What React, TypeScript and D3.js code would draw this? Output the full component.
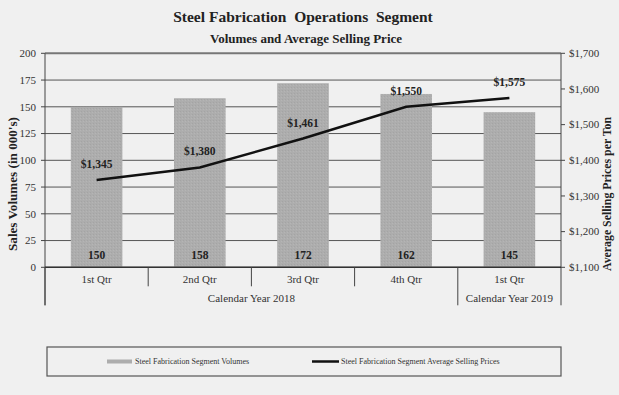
import React from 'react';
import * as d3 from 'd3';

const quarters = ['1st Qtr', '2nd Qtr', '3rd Qtr', '4th Qtr', '1st Qtr '];
const quarterLabels = ['1st Qtr', '2nd Qtr', '3rd Qtr', '4th Qtr', '1st Qtr'];
const volumes = [150, 158, 172, 162, 145];
const prices = [1345, 1380, 1461, 1550, 1575];
const volumeTicks = [0, 25, 50, 75, 100, 125, 150, 175, 200];
const priceTicks = [1100, 1200, 1300, 1400, 1500, 1600, 1700];
const yearGroups = [
  { label: 'Calendar Year 2018', from: 0, to: 3 },
  { label: 'Calendar Year 2019', from: 4, to: 4 },
];

const W = 619;
const H = 395;
const FONT = '"Liberation Serif", "Times New Roman", serif';

const App = () => {
  const margin = { left: 45, right: 58, top: 53.3, bottom: 127.7 };
  const x0 = margin.left;
  const x1 = W - margin.right;
  const yTop = margin.top;
  const yBot = H - margin.bottom;

  const x = d3.scaleBand().domain(quarters).range([x0, x1]).paddingInner(0).paddingOuter(0);
  const barW = x.bandwidth() * 0.5;
  const yVol = d3.scaleLinear().domain([0, 200]).range([yBot, yTop]);
  const yPrice = d3.scaleLinear().domain([1100, 1700]).range([yBot, yTop]);

  const line = d3
    .line<number>()
    .x((_, i) => x(quarters[i])! + x.bandwidth() / 2)
    .y(d => yPrice(d));

  const fmt = (v: number) => '$' + d3.format(',')(v);

  return (
    <svg width={W} height={H} style={{ position: 'absolute', left: 0, top: 0, background: '#f0f0f0' }}>
      <defs>
        <pattern id="grain" width="3" height="3" patternUnits="userSpaceOnUse">
          <rect width="3" height="3" fill="#adadad" />
          <rect width="1" height="1" fill="#a4a4a4" />
          <rect x="2" y="1" width="1" height="1" fill="#b5b5b5" />
        </pattern>
      </defs>
      <rect width={W} height={H} fill="#f0f0f0" />

      <text x={303} y={22} textAnchor="middle" fontFamily={FONT} fontWeight="bold" fontSize={15.5} fill="#222" style={{ whiteSpace: 'pre' }}>
        {'Steel Fabrication  Operations  Segment'}
      </text>
      <text x={306} y={43} textAnchor="middle" fontFamily={FONT} fontWeight="bold" fontSize={13} fill="#222">
        Volumes and Average Selling Price
      </text>

      {/* grid */}
      {volumeTicks.map(t => (
        <line key={t} x1={x0} x2={x1} y1={yVol(t)} y2={yVol(t)} stroke={t === 200 ? '#777' : '#555'} strokeWidth={t === 200 ? 2 : 1} />
      ))}

      {/* bars */}
      {volumes.map((v, i) => (
        <rect
          key={i}
          x={x(quarters[i])! + (x.bandwidth() - barW) / 2}
          y={yVol(v)}
          width={barW}
          height={yVol(0) - yVol(v)}
          fill="url(#grain)"
        />
      ))}

      {/* left axis */}
      <line x1={x0} x2={x0} y1={yTop} y2={yBot + 38} stroke="#444" strokeWidth={1} />
      {volumeTicks.map(t => (
        <g key={t}>
          <line x1={x0 - 4} x2={x0} y1={yVol(t)} y2={yVol(t)} stroke="#444" />
          <text x={x0 - 9} y={yVol(t)} dy="0.35em" textAnchor="end" fontFamily={FONT} fontSize={11} fill="#333">
            {t}
          </text>
        </g>
      ))}
      <text
        transform={`translate(17,184) rotate(-90)`}
        textAnchor="middle"
        fontFamily={FONT}
        fontWeight="bold"
        fontSize={12.5}
        textLength={134}
        lengthAdjust="spacingAndGlyphs"
        fill="#222"
      >
        Sales Volumes (in 000's)
      </text>

      {/* right axis */}
      <line x1={x1} x2={x1} y1={yTop} y2={yBot + 38} stroke="#444" strokeWidth={1} />
      {priceTicks.map(t => (
        <g key={t}>
          <line x1={x1} x2={x1 + 4} y1={yPrice(t)} y2={yPrice(t)} stroke="#444" />
          <text x={x1 + 8} y={yPrice(t)} dy="0.35em" textAnchor="start" fontFamily={FONT} fontSize={11} fill="#333">
            {fmt(t)}
          </text>
        </g>
      ))}
      <text
        transform={`translate(611,194) rotate(-90)`}
        textAnchor="middle"
        fontFamily={FONT}
        fontWeight="bold"
        fontSize={12.5}
        textLength={154}
        lengthAdjust="spacingAndGlyphs"
        fill="#222"
      >
        Average Selling Prices per Ton
      </text>

      {/* category axis */}
      <line x1={x0} x2={x1} y1={yBot} y2={yBot} stroke="#333" strokeWidth={1.5} />
      {quarters.map((q, i) => {
        const bx = x(q)!;
        const long = i === 0 || i === 4;
        return <line key={q} x1={bx} x2={bx} y1={yBot} y2={yBot + (long ? 38 : 19)} stroke="#444" />;
      })}
      {quarters.map((q, i) => (
        <text
          key={q}
          x={x(q)! + x.bandwidth() / 2}
          y={yBot + 16}
          textAnchor="middle"
          fontFamily={FONT}
          fontSize={11}
          fill="#333"
        >
          {quarterLabels[i]}
        </text>
      ))}
      {yearGroups.map(g => (
        <text
          key={g.label}
          x={(x(quarters[g.from])! + x(quarters[g.to])! + x.bandwidth()) / 2}
          y={yBot + 35}
          textAnchor="middle"
          fontFamily={FONT}
          fontSize={11}
          fill="#333"
        >
          {g.label}
        </text>
      ))}

      {/* price line */}
      <path d={line(prices)!} fill="none" stroke="#111" strokeWidth={2.5} />

      {/* labels */}
      {prices.map((p, i) => (
        <text
          key={'p' + i}
          x={x(quarters[i])! + x.bandwidth() / 2}
          y={yPrice(p) - 12}
          textAnchor="middle"
          fontFamily={FONT}
          fontWeight="bold"
          fontSize={11.5}
          fill="#222"
        >
          {fmt(p)}
        </text>
      ))}
      {volumes.map((v, i) => (
        <text
          key={'v' + i}
          x={x(quarters[i])! + x.bandwidth() / 2}
          y={yBot - 8}
          textAnchor="middle"
          fontFamily={FONT}
          fontWeight="bold"
          fontSize={11.5}
          fill="#222"
        >
          {v}
        </text>
      ))}

      {/* legend */}
      <rect x={47} y={347} width={514} height={29} fill="none" stroke="#555" strokeWidth={1.2} />
      <line x1={107} x2={132} y1={361.5} y2={361.5} stroke="#adadad" strokeWidth={4} />
      <text x={135} y={361.5} dy="0.35em" fontFamily={FONT} fontSize={8} fill="#333">
        Steel Fabrication Segment Volumes
      </text>
      <line x1={312} x2={339} y1={361.5} y2={361.5} stroke="#111" strokeWidth={2.5} />
      <text x={341} y={361.5} dy="0.35em" fontFamily={FONT} fontSize={8} fill="#333">
        Steel Fabrication Segment Average Selling Prices
      </text>
    </svg>
  );
};

export default App;
